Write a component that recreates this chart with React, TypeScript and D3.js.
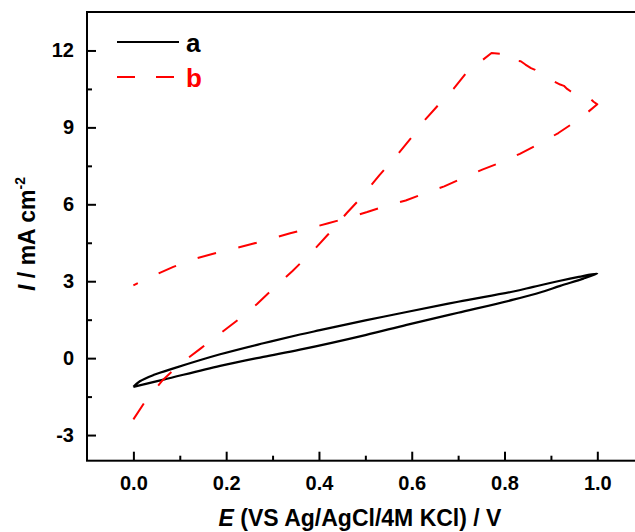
import React, { useEffect, useRef } from "react";
import * as d3 from "d3";

// curve a (black, solid): lower branch out to 1.0 V, upper branch back
const aX = [0, 0.065, 0.187, 0.28, 0.359, 0.5, 0.589, 0.7, 0.819, 0.88, 0.92, 0.97, 1.0,
  0.96, 0.92, 0.862, 0.819, 0.7, 0.589, 0.5, 0.402, 0.359, 0.28, 0.187, 0.09, 0.043, 0.014, 0];
const aY = [-1.12, -0.84, -0.3, 0.05, 0.33, 0.9, 1.3, 1.77, 2.28, 2.58, 2.82, 3.1, 3.3,
  3.17, 3.02, 2.78, 2.6, 2.2, 1.8, 1.47, 1.09, 0.92, 0.58, 0.15, -0.38, -0.66, -0.9, -1.12];

// curve b (red, dashed): forward scan then return
const bX = [0, 0.025, 0.063, 0.096, 0.146, 0.18, 0.228, 0.266, 0.309, 0.343, 0.387, 0.42,
  0.46, 0.492, 0.53, 0.562, 0.6, 0.629, 0.668, 0.69, 0.716, 0.74, 0.772, 0.794, 0.797,
  0.806, 0.815, 0.82, 0.826, 0.835, 0.845, 0.857, 0.866, 0.874, 0.882, 0.9, 0.92, 0.928,
  0.935, 0.943, 0.96, 0.979, 0.985, 0.992, 1.0,
  0.964, 0.916, 0.88, 0.833, 0.8, 0.752, 0.718, 0.67, 0.634, 0.587, 0.55, 0.504, 0.467,
  0.42, 0.383, 0.338, 0.3, 0.255, 0.216, 0.17, 0.131, 0.086, 0.049, 0];
const bY = [-2.39, -1.7, -0.86, -0.3, 0.39, 0.86, 1.53, 2.1, 2.84, 3.4, 4.18, 4.83,
  5.66, 6.28, 7.13, 7.78, 8.62, 9.3, 10.09, 10.5, 11.09, 11.45, 11.9, 11.87, 11.73,
  11.66, 11.56, 11.54, 11.6, 11.58, 11.45, 11.31, 11.24, 11.14, 11.02, 10.85, 10.67, 10.62,
  10.5, 10.4, 10.22, 10.08, 10.12, 10.0, 9.9,
  9.36, 8.78, 8.41, 7.97, 7.69, 7.35, 7.09, 6.7, 6.47, 6.15, 5.97, 5.7, 5.5,
  5.26, 5.08, 4.87, 4.67, 4.45, 4.27, 4.06, 3.87, 3.56, 3.26, 2.84];

const xTicks = [0, 0.2, 0.4, 0.6, 0.8, 1.0];
const xMinor = [0.1, 0.3, 0.5, 0.7, 0.9];
const yTicks = [-3, 0, 3, 6, 9, 12];
const yMinor = [-1.5, 1.5, 4.5, 7.5, 10.5];
const legendNames = ["a", "b"];

const W = 635;
const H = 532;
const font = "'Liberation Sans', Arial, sans-serif";

const App = () => {
  const ref = useRef<SVGSVGElement>(null);

  useEffect(() => {
    const svg = d3.select(ref.current);
    svg.selectAll("*").remove();

    const left = 87, top = 12, bottom = 460.7, right = 643.7;
    const x = d3.scaleLinear().domain([-0.1, 1.1]).range([left, right]);
    const y = d3.scaleLinear().domain([-4, 13.5]).range([bottom, top]);

    // frame
    svg.append("rect")
      .attr("x", left).attr("y", top)
      .attr("width", right - left).attr("height", bottom - top)
      .attr("fill", "none").attr("stroke", "#000").attr("stroke-width", 2);

    const xAxis = svg.append("g").attr("transform", `translate(0,${bottom})`)
      .call(d3.axisBottom(x).tickValues(xTicks).tickSizeInner(-9).tickSizeOuter(0)
        .tickPadding(15).tickFormat(d3.format(".1f")));
    svg.append("g").attr("transform", `translate(0,${bottom})`)
      .call(d3.axisBottom(x).tickValues(xMinor).tickSizeInner(-5).tickSizeOuter(0)
        .tickFormat(() => ""));

    const yAxis = svg.append("g").attr("transform", `translate(${left},0)`)
      .call(d3.axisLeft(y).tickValues(yTicks).tickSizeInner(-9).tickSizeOuter(0)
        .tickPadding(13).tickFormat((d) => String(d)));
    svg.append("g").attr("transform", `translate(${left},0)`)
      .call(d3.axisLeft(y).tickValues(yMinor).tickSizeInner(-5).tickSizeOuter(0)
        .tickFormat(() => ""));

    svg.selectAll(".domain").remove();
    svg.selectAll(".tick line").attr("stroke", "#000").attr("stroke-width", 2);
    [xAxis, yAxis].forEach((g) =>
      g.selectAll("text")
        .attr("fill", "#000")
        .style("font-family", font)
        .style("font-size", "20px")
        .style("font-weight", "bold"));

    svg.append("path")
      .attr("d", d3.line<number>().x((d) => x(d)).y((d, i) => y(aY[i])).curve(d3.curveCatmullRom)(aX))
      .attr("fill", "none").attr("stroke", "#000").attr("stroke-width", 2.2)
      .attr("stroke-linejoin", "round");

    svg.append("path")
      .attr("d", d3.line<number>().x((d) => x(d)).y((d, i) => y(bY[i])).curve(d3.curveLinear)(bX))
      .attr("fill", "none").attr("stroke", "#ff0000").attr("stroke-width", 2)
      .attr("stroke-dasharray", "19,23").attr("stroke-linejoin", "round");

    // legend
    const leg = svg.append("g");
    const colors = ["#000", "#ff0000"];
    legendNames.forEach((n, i) => {
      const ly = 42 + i * 35;
      leg.append("line")
        .attr("x1", 117).attr("x2", 179).attr("y1", ly).attr("y2", ly)
        .attr("stroke", colors[i]).attr("stroke-width", 2)
        .attr("stroke-dasharray", i === 1 ? "18,21" : null);
      leg.append("text")
        .attr("x", 186).attr("y", ly + 10)
        .attr("fill", colors[i])
        .style("font-family", font).style("font-size", "26px").style("font-weight", "bold")
        .text(n);
    });

    // axis titles
    const xt = svg.append("text")
      .attr("x", 360).attr("y", 526).attr("text-anchor", "middle")
      .style("font-family", font).style("font-size", "23px").style("font-weight", "bold");
    xt.append("tspan").style("font-style", "italic").text("E");
    xt.append("tspan").text(" (VS Ag/AgCl/4M KCl) / V");

    const yt = svg.append("text")
      .attr("transform", "translate(35,234) rotate(-90)").attr("text-anchor", "middle")
      .style("font-family", font).style("font-size", "23px").style("font-weight", "bold");
    yt.append("tspan").style("font-style", "italic").text("I");
    yt.append("tspan").text(" / mA cm");
    yt.append("tspan").attr("dy", -10).style("font-size", "14px").text("-2");
  }, []);

  return (
    <div style={{ position: "absolute", left: 0, top: 0 }}>
      <svg ref={ref} width={W} height={H} style={{ display: "block", background: "#fff" }}></svg>
    </div>
  );
};

export default App;
